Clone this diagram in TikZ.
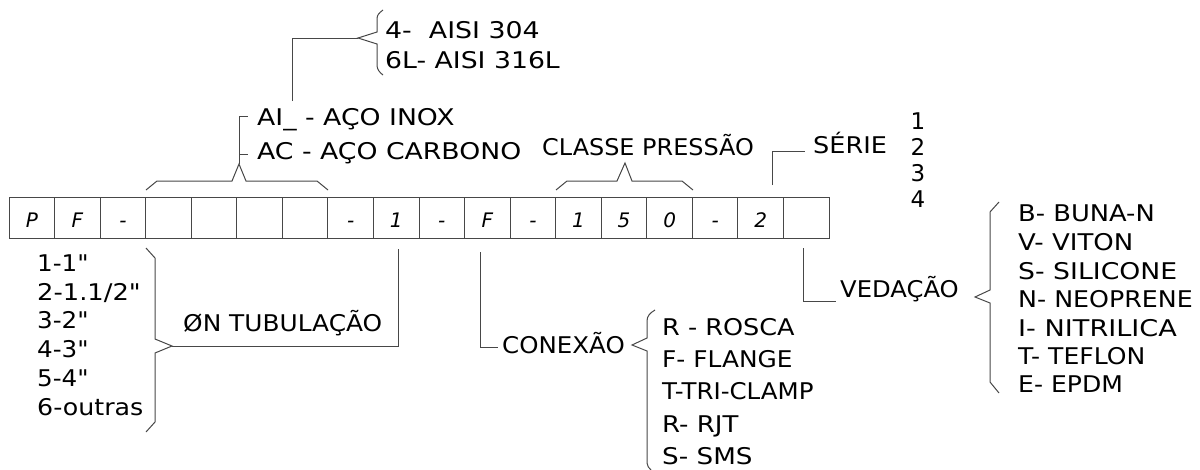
\documentclass[tikz,border=0pt]{standalone}
\usepackage{graphicx}
\usepackage{fontspec}
\setmainfont{DejaVu Sans}
\newcommand{\hsc}[2]{\scalebox{#1}[1]{#2}}
\begin{document}
\begin{tikzpicture}[x=1pt,y=-1pt,
  ln/.style={draw=black!72,line width=1pt,line join=miter},
  cell/.style={draw=black!72,line width=1pt,rectangle,minimum width=45.56pt,minimum height=41pt,inner sep=0pt,text height=19pt,text depth=0pt,font=\fontsize{20}{24}\selectfont\itshape},
  lbl/.style={anchor=base west,inner sep=0pt,font=\fontsize{23}{28}\selectfont}]
\useasboundingbox (0,0) rectangle (1200,469);
% cells
\foreach \t [count=\i] in {P,F,-,{},{},{},{},-,1,-,F,-,1,5,0,-,2,{}}
  \node[cell] (c\i) at ({9+45.56*(\i-0.5)},217.5) {\t};
% texts
\node[lbl] (t304) at (385,38) {\hsc{1.165}{4-\ \ AISI 304}};
\node[lbl] (t316) at (385,68) {\hsc{1.16}{6L- AISI 316L}};
\node[lbl] (tai) at (257,125) {\hsc{1.16}{AI\_ - AÇO INOX}};
\node[lbl] (tac) at (257,159) {\hsc{1.16}{AC - AÇO CARBONO}};
\node[lbl] (tcl) at (542,155) {\hsc{1.04}{CLASSE PRESSÃO}};
\node[lbl] (tse) at (813,153) {\hsc{1.11}{SÉRIE}};
\node[lbl,anchor=base] (s1) at (918,129) {1};
\node[lbl,anchor=base] (s2) at (918,155) {2};
\node[lbl,anchor=base] (s3) at (918,181) {3};
\node[lbl,anchor=base] (s4) at (918,207) {4};
\node[lbl] (d1) at (37,271) {\hsc{1.07}{1-1\textquotedbl}};
\node[lbl] (d2) at (37,300) {\hsc{1.12}{2-1.1/2\textquotedbl}};
\node[lbl] (d3) at (37,328) {\hsc{1.07}{3-2\textquotedbl}};
\node[lbl] (d4) at (37,357) {\hsc{1.07}{4-3\textquotedbl}};
\node[lbl] (d5) at (37,386) {\hsc{1.07}{5-4\textquotedbl}};
\node[lbl] (d6) at (37,415) {\hsc{1.1}{6-outras}};
\node[lbl] (ttub) at (183,331) {\hsc{1.08}{ØN TUBULAÇÃO}};
\node[lbl] (tcon) at (502,353) {\hsc{1.065}{CONEXÃO}};
\node[lbl] (k1) at (662,335) {\hsc{1.11}{R - ROSCA}};
\node[lbl] (k2) at (662,367) {\hsc{1.08}{F- FLANGE}};
\node[lbl] (k3) at (662,399) {\hsc{1.065}{T-TRI-CLAMP}};
\node[lbl] (k4) at (662,432) {\hsc{1.13}{R- RJT}};
\node[lbl] (k5) at (662,464) {\hsc{1.14}{S- SMS}};
\node[lbl] (tved) at (840,297) {\hsc{1.055}{VEDAÇÃO}};
\node[lbl] (v1) at (1018,221) {\hsc{1.12}{B- BUNA-N}};
\node[lbl] (v2) at (1018,250) {\hsc{1.13}{V- VITON}};
\node[lbl] (v3) at (1018,279) {\hsc{1.16}{S- SILICONE}};
\node[lbl] (v4) at (1018,307) {\hsc{1.1}{N- NEOPRENE}};
\node[lbl] (v5) at (1018,336) {\hsc{1.18}{I- NITRILICA}};
\node[lbl] (v6) at (1018,364) {\hsc{1.09}{T- TEFLON}};
\node[lbl] (v7) at (1018,392) {\hsc{1.09}{E- EPDM}};
% material brace
\coordinate (mpk) at (239,164);
\draw[ln] (146,190) -- (157,181) -- (232,181) -- (mpk) -- (246,181) -- (317,181) -- (328,190);
\draw[ln] (mpk) -- (239,116) -- (248,116);
\draw[ln] (239,154) -- (248,154);
\draw[ln] (292,101) -- (292,38) -- (358,38);
\draw[ln] (383,10) .. controls (379,13) and (377,15) .. (377,19) -- (377,32) -- (358,38) -- (377,44) -- (377,65) .. controls (377,69) and (379,72) .. (383,75);
% classe brace
\draw[ln] (556,190) -- (567,181) -- (617,181) -- (625,163) -- (632,181) -- (682,181) -- (693,190);
% serie
\draw[ln] (772,185) -- (772,151) -- (805,151);
% tubulacao
\draw[ln] (398,249) -- (398,346) -- (172,346);
\draw[ln] (146,248) -- (155,258) -- (155,339) -- (172,346) -- (155,353) -- (155,422) -- (146,432);
% conexao
\draw[ln] (480,252) -- (480,347) -- (498,347);
\draw[ln] (655,310) .. controls (650,313) and (647,316) .. (647,321) -- (647,338) -- (632,345) -- (647,351) -- (647,463) .. controls (647,466) and (649,468) .. (651,470);
% vedacao
\draw[ln] (803,248) -- (803,301) -- (836,301);
\draw[ln] (999,202) -- (990,212) -- (990,290) -- (975,297) -- (990,303) -- (990,382) -- (999,393);
\end{tikzpicture}
\end{document}
